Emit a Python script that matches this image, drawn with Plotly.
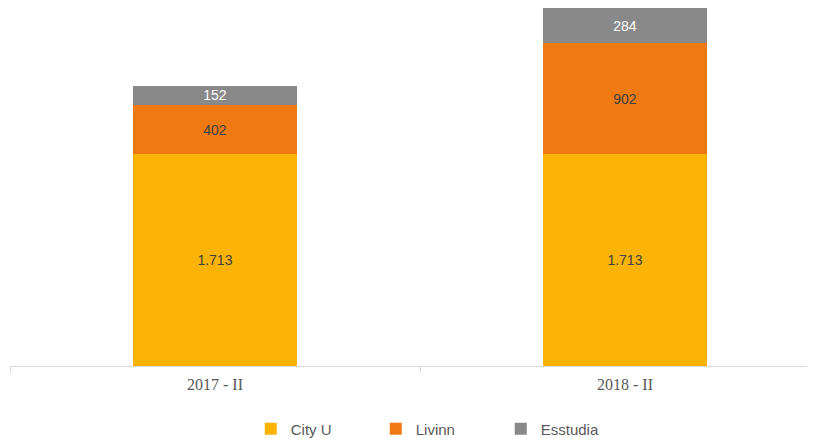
import plotly.graph_objects as go

periods = ['2017 - II', '2018 - II']
city_u = [1713, 1713]
livinn = [402, 902]
esstudia = [152, 284]

series = [
    ('City U', city_u, '#FBB406', '#404040'),
    ('Livinn', livinn, '#F07A12', '#404040'),
    ('Esstudia', esstudia, '#898989', '#FFFFFF'),
]


def fmt(v):
    # thousands separator with a dot
    return f'{v:,}'.replace(',', '.')


fig = go.Figure()

for name, vals, color, txtcolor in series:
    fig.add_trace(go.Bar(
        x=periods,
        y=vals,
        name=name,
        marker_color=color,
        marker_line_width=0,
        width=0.4,
        text=[fmt(v) for v in vals],
        textposition='inside',
        insidetextanchor='middle',
        textangle=0,
        textfont=dict(family='Liberation Sans, Arial', size=14, color=txtcolor),
    ))

# page body has an 8px margin, so the figure is a bit smaller than the window
fig.update_layout(
    barmode='stack',
    width=807,
    height=430,
    plot_bgcolor='white',
    paper_bgcolor='white',
    margin=dict(l=2, r=0, t=0, b=72, autoexpand=False),
    uniformtext=dict(minsize=14, mode='show'),
    legend=dict(
        orientation='h',
        traceorder='normal',
        x=0.532,
        xanchor='center',
        y=-0.176,
        yanchor='middle',
        entrywidth=80,
        font=dict(family='Liberation Sans, Arial', size=15, color='#595959'),
        itemclick=False,
    ),
    showlegend=True,
)

fig.update_xaxes(
    range=[-0.5, 1.4634],
    automargin=False,
    showline=True,
    linecolor='#D9D9D9',
    linewidth=1,
    ticks='outside',
    tickson='boundaries',
    tickcolor='#D9D9D9',
    ticklen=6,
    ticklabelstandoff=4,
    showgrid=False,
    tickfont=dict(family='Liberation Serif, Times New Roman', size=16, color='#595959'),
)

fig.update_yaxes(
    range=[0, 2899],
    visible=False,
    showgrid=False,
)

fig.write_html('out.html')
